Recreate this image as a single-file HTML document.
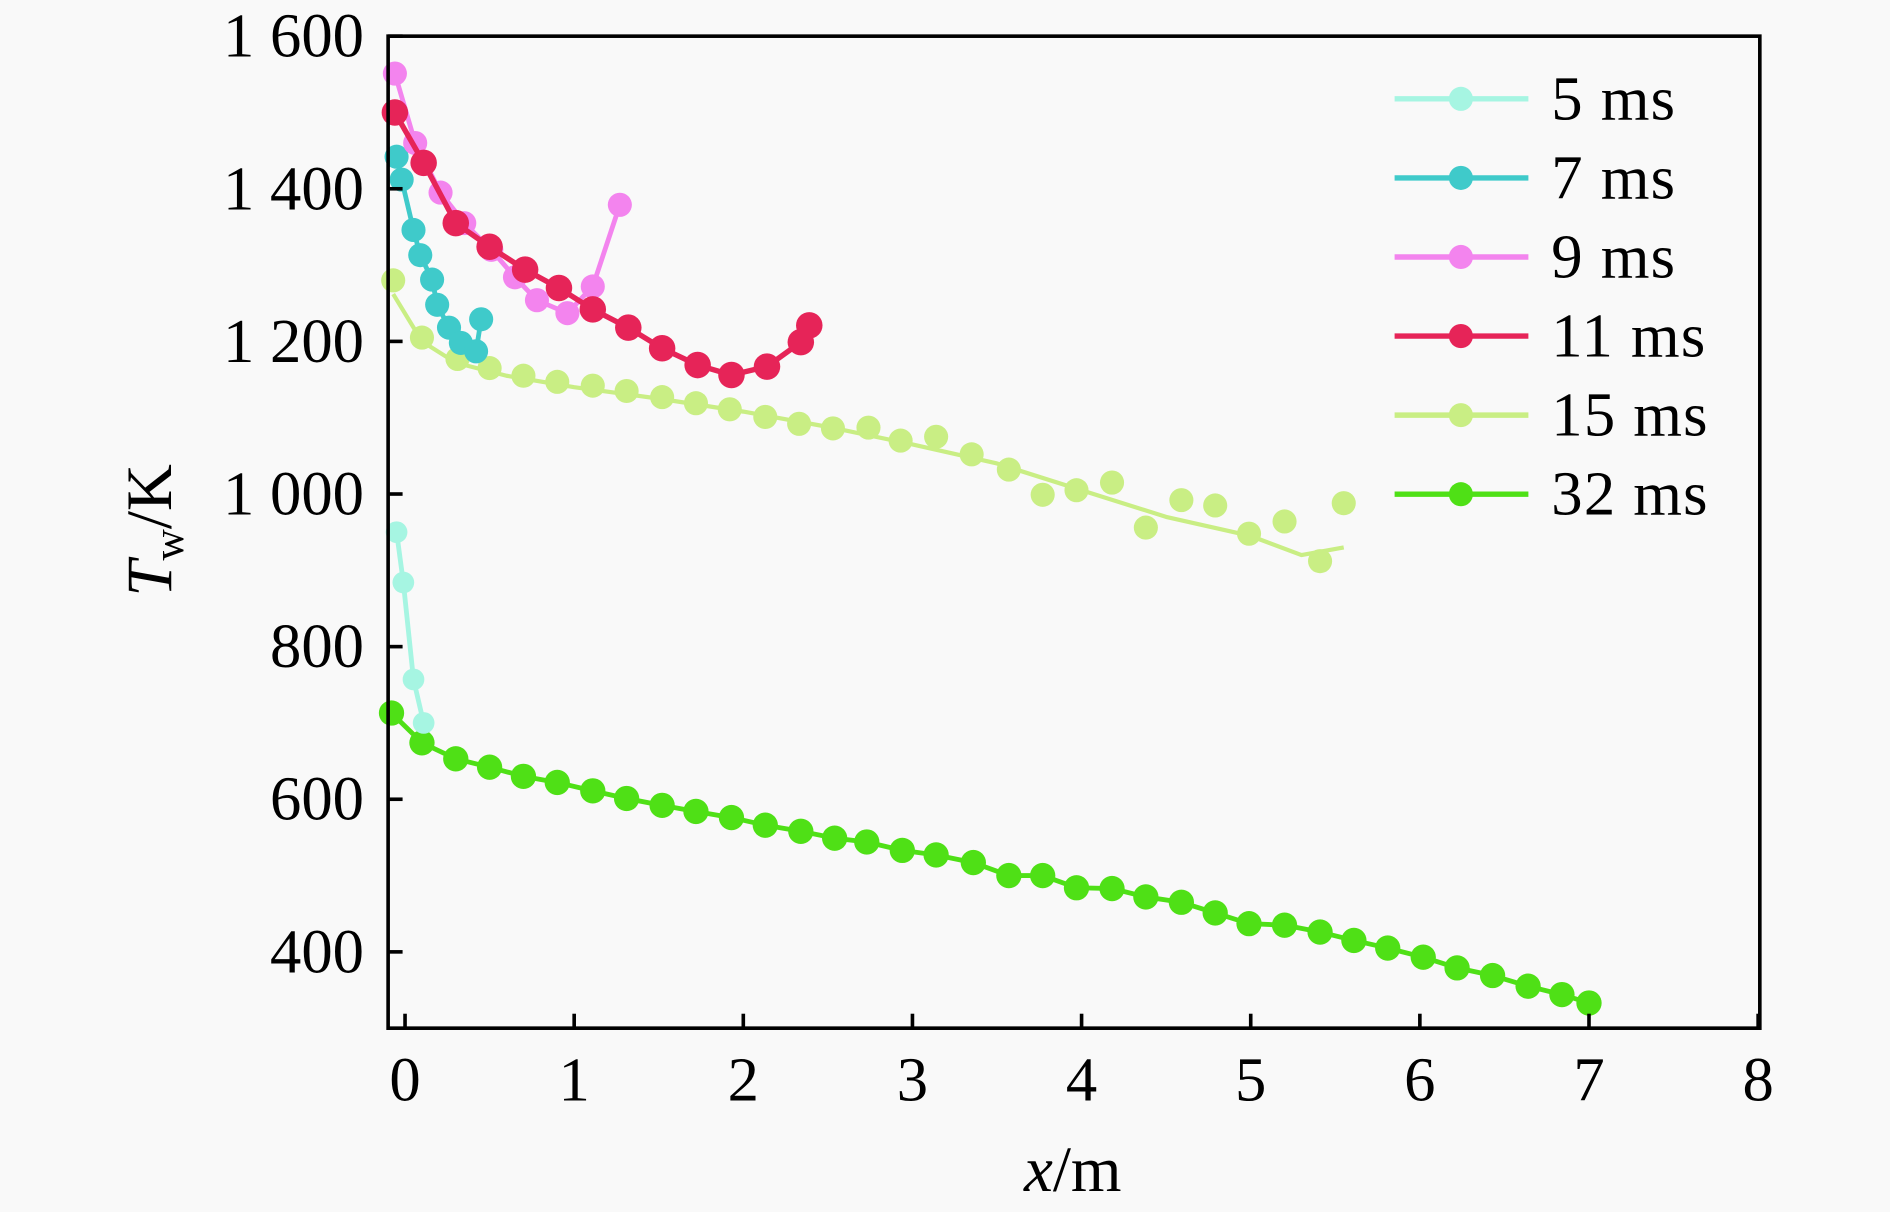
<!DOCTYPE html>
<html><head><meta charset="utf-8"><style>
html,body{margin:0;padding:0;background:#f9f9f9;}
svg{display:block;}
text{font-family:"Liberation Serif",serif;fill:#000;}
</style></head><body>
<svg id="chart" width="1890" height="1212" viewBox="0 0 1568 1005.5" preserveAspectRatio="none" xmlns="http://www.w3.org/2000/svg">
<g id="plot"></g>
</svg>
<script>
const xTicks=[0,1,2,3,4,5,6,7,8];
const yTicks=[400,600,800,1000,1200,1400,1600];
const yTickLabels=["400","600","800","1 000","1 200","1 400","1 600"];
const seriesNames=["5 ms","7 ms","9 ms","11 ms","15 ms","32 ms"];
const seriesColors=["#a6f5e2","#3fcaca","#f384ee","#e62458","#c9ee84","#4fe016"];
const s5x=[-0.05,-0.01,0.05,0.11];
const s5y=[950,884,757,700];
const s7x=[-0.05,-0.02,0.05,0.09,0.16,0.19,0.26,0.33,0.42,0.45];
const s7y=[1442,1412,1346,1313,1281,1248,1218,1198,1187,1229];
const s9x=[-0.06,0.06,0.21,0.35,0.51,0.65,0.78,0.96,1.11,1.27];
const s9y=[1551,1460,1395,1355,1320,1284,1254,1237,1272,1379];
const s11x=[-0.06,0.11,0.30,0.50,0.71,0.91,1.11,1.32,1.52,1.73,1.93,2.14,2.34,2.39];
const s11y=[1500,1434,1355,1324,1294,1270,1242,1218,1191,1169,1156,1167,1199,1221];
const s15x=[-0.07,0.1,0.31,0.5,0.7,0.9,1.11,1.31,1.52,1.72,1.92,2.13,2.33,2.53,2.74,2.93,3.14,3.35,3.57,3.77,3.97,4.18,4.38,4.59,4.79,4.99,5.2,5.41,5.55];
const s15y=[1280,1205,1177,1165,1155,1147,1142,1135,1127,1119,1111,1101,1092,1086,1087,1070,1075,1052,1032,999,1005,1015,956,992,985,948,964,912,988];
const s15fitX=[-0.07,0.1,0.3,0.6,1.0,1.5,2.0,2.5,3.0,3.5,4.0,4.5,5.0,5.3,5.55];
const s15fitY=[1262,1200,1172,1155,1140,1125,1108,1088,1065,1040,1005,970,945,920,930];
const s32x=[-0.08,0.1,0.3,0.5,0.7,0.9,1.11,1.31,1.52,1.72,1.93,2.13,2.34,2.54,2.73,2.94,3.14,3.36,3.57,3.77,3.97,4.18,4.38,4.59,4.79,4.99,5.2,5.41,5.61,5.81,6.02,6.22,6.43,6.64,6.84,7.0];
const s32y=[713,674,653,642,630,622,611,601,592,584,576,566,558,549,544,533,527,517,500,500,484,483,472,465,451,437,435,426,415,405,393,379,369,355,344,333];

const L=322,R=1460,T=30,B=853,X0=-0.1,X1=8.01,Y0=300,Y1=1600;
const sx=v=>L+(v-X0)/(X1-X0)*(R-L);
const sy=v=>B-(v-Y0)/(Y1-Y0)*(B-T);
const NS="http://www.w3.org/2000/svg";
const svg=document.getElementById('plot');
function mk(tag,attrs,parent){const e=document.createElementNS(NS,tag);for(const k in attrs)e.setAttribute(k,attrs[k]);(parent||svg).appendChild(e);return e;}
function line(xs,ys,color,w,name){
  const p=mk('polyline',{points:xs.map((x,i)=>sx(x)+','+sy(ys[i])).join(' '),fill:'none',stroke:color,'stroke-width':w,'stroke-linejoin':'round'});
  
  
}
function pts(xs,ys,color,r,name){
  xs.forEach((x,i)=>{const c=mk('circle',{cx:sx(x),cy:sy(ys[i]),r:r,fill:color});
    
    });
}
line(s15fitX,s15fitY,seriesColors[4],3.5,'line-15ms');pts(s15x,s15y,seriesColors[4],10,'point-15ms');
line(s32x,s32y,seriesColors[5],4,'line-32ms');pts(s32x,s32y,seriesColors[5],10.5,'point-32ms');
line(s5x,s5y,seriesColors[0],4,'line-5ms');pts(s5x,s5y,seriesColors[0],9,'point-5ms');
line(s7x,s7y,seriesColors[1],4,'line-7ms');pts(s7x,s7y,seriesColors[1],10,'point-7ms');
line(s9x,s9y,seriesColors[2],4,'line-9ms');pts(s9x,s9y,seriesColors[2],10,'point-9ms');
line(s11x,s11y,seriesColors[3],4.5,'line-11ms');pts(s11x,s11y,seriesColors[3],11,'point-11ms');
const fr=mk('rect',{x:L,y:T,width:R-L,height:B-T,fill:'none',stroke:'#000','stroke-width':3});


xTicks.forEach(v=>{
  const t=mk('line',{x1:sx(v),x2:sx(v),y1:B,y2:B-12,stroke:'#000','stroke-width':3});
  
  
  const tx=mk('text',{x:sx(v),y:913,'text-anchor':'middle','font-size':52});tx.textContent=v;
  
  
});
yTicks.forEach((v,i)=>{
  const t=mk('line',{x1:L,x2:L+12,y1:sy(v),y2:sy(v),stroke:'#000','stroke-width':3});
  
  
  const tx=mk('text',{x:302,y:sy(v)+17,'text-anchor':'end','font-size':52});tx.textContent=yTickLabels[i];
  
  
});
seriesNames.forEach((n,i)=>{
  const y=82+i*65.6;
  const l=mk('line',{x1:1157,x2:1268,y1:y,y2:y,stroke:seriesColors[i],'stroke-width':4.5});
  
  
  const c=mk('circle',{cx:1212,cy:y,r:10,fill:seriesColors[i]});
  
  
  const t=mk('text',{x:1287,y:y+17,'font-size':52,'letter-spacing':'1'});t.textContent=n;
  
  
});
</script>
<svg style="position:absolute;left:0;top:0" width="1890" height="1212" viewBox="0 0 1568 1005.5" preserveAspectRatio="none">
<text x="890" y="988" text-anchor="middle" font-size="54"><tspan font-style="italic">x</tspan>/m</text>
<text transform="translate(142,440) rotate(-90)" text-anchor="middle" font-size="54"><tspan font-style="italic">T</tspan><tspan font-size="36" dy="10">w</tspan><tspan dy="-10">/K</tspan></text>
</svg>
</body></html>
